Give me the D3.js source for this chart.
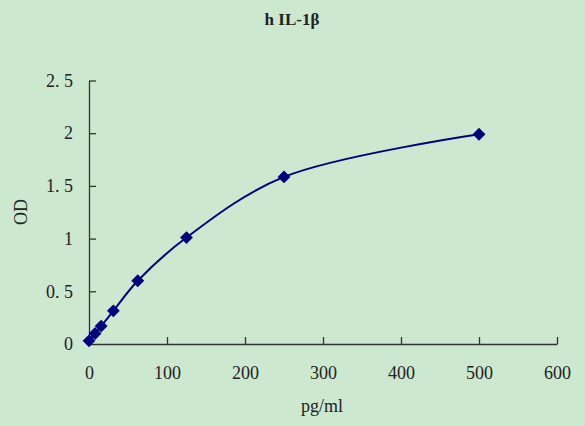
<!DOCTYPE html>
<html>
<head>
<meta charset="utf-8">
<script src="https://cdn.jsdelivr.net/npm/d3@7"></script>
<style>
  body { margin: 0; background: #cce8cf; }
  svg text { font-family: "Liberation Serif", "DejaVu Serif", serif; fill: #222; }
</style>
</head>
<body>
<svg id="chart" width="585" height="426"></svg>
<script>
var width = 585;
var height = 426;

// standard curve
var conc = [0, 7.8, 15.6, 31.25, 62.5, 125, 250, 500];
var od = [0.03, 0.10, 0.17, 0.315, 0.6, 1.01, 1.585, 1.99];
var xTicks = [0, 100, 200, 300, 400, 500, 600];
var yTicks = [0, 0.5, 1, 1.5, 2, 2.5];
var yTickLabels = ["0", "0. 5", "1", "1. 5", "2", "2. 5"];

var svg = d3.select("#chart");
svg.append("rect").attr("width", width).attr("height", height).attr("fill", "#cce8cf");

var x = d3.scaleLinear().domain([0, 600]).range([89, 557]);
var y = d3.scaleLinear().domain([0, 2.5]).range([344, 80.5]);

// title
svg.append("text")
    .attr("x", 292).attr("y", 25)
    .attr("text-anchor", "middle")
    .style("font-size", "17px").style("font-weight", "bold")
    .text("h IL-1β");

var xAxis = svg.append("g")
    .attr("transform", "translate(0,344)")
    .call(d3.axisBottom(x).tickValues(xTicks).tickSizeInner(-7).tickSizeOuter(0).tickPadding(22).tickFormat(d3.format("d")));
xAxis.selectAll("text").style("font-size", "18px");

var yAxis = svg.append("g")
    .attr("transform", "translate(89,0)")
    .call(d3.axisLeft(y).tickValues(yTicks).tickSizeInner(-7).tickSizeOuter(0).tickPadding(16)
        .tickFormat(function(d, i) { return yTickLabels[i]; }));
yAxis.selectAll("text").style("font-size", "18px");
yAxis.select(".tick").select("line").remove();

svg.selectAll(".domain").attr("stroke", "#333").attr("stroke-width", 1.3);
svg.selectAll(".tick line").attr("stroke", "#333").attr("stroke-width", 1.3);

// axis titles
svg.append("text")
    .attr("x", 322).attr("y", 412)
    .attr("text-anchor", "middle")
    .style("font-size", "18px")
    .text("pg/ml");

svg.append("text")
    .attr("transform", "translate(27,212) rotate(-90)")
    .attr("text-anchor", "middle")
    .style("font-size", "18px")
    .text("OD");

var pts = conc.map(function(c, i) { return [c, od[i]]; });

var line = d3.line()
    .x(function(d) { return x(d[0]); })
    .y(function(d) { return y(d[1]); })
    .curve(d3.curveCatmullRom);

svg.append("path")
    .attr("d", line(pts))
    .attr("fill", "none")
    .attr("stroke", "#000080")
    .attr("stroke-width", 2);

var diamond = d3.symbol().type(d3.symbolDiamond2).size(105);
svg.selectAll("path.pt")
    .data(pts)
    .enter()
    .append("path")
    .attr("class", "pt")
    .attr("d", diamond)
    .attr("transform", function(d) { return "translate(" + x(d[0]) + "," + y(d[1]) + ")"; })
    .attr("fill", "#000080");
</script>
</body>
</html>
